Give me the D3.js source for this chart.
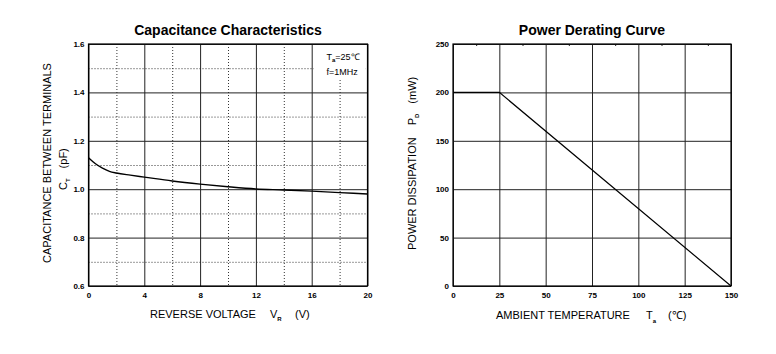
<!DOCTYPE html>
<html>
<head>
<meta charset="utf-8">
<script src="https://cdn.jsdelivr.net/npm/d3@7"></script>
<style>
  body { margin: 0; background: #fff; }
  text { font-family: "Liberation Sans", Arial, sans-serif; fill: #000; }
  .tick-label { font-size: 8px; font-weight: bold; }
  .title { font-size: 14px; font-weight: bold; }
  .axis-label { font-size: 11px; }
</style>
</head>
<body>
<script>
// Data // ----------------------------------------------------------------
// capacitance vs reverse voltage
var capVoltage = [0, 0.5, 1, 1.5, 2, 3, 4, 6, 8, 10, 12, 14, 16, 18, 20];
var capValue   = [1.13, 1.105, 1.087, 1.074, 1.067, 1.058, 1.05, 1.034, 1.021, 1.01, 1.001, 0.997, 0.992, 0.986, 0.98];
var capXTicks  = [0, 4, 8, 12, 16, 20];
var capXMinor  = [2, 6, 10, 14, 18];
var capYTicks  = [0.6, 0.8, 1.0, 1.2, 1.4, 1.6];
var capYMinor  = [0.7, 0.9, 1.1, 1.3, 1.5];

// power derating
var pdTemp  = [0, 25, 150];
var pdPower = [200, 200, 0];
var pdXTicks = [0, 25, 50, 75, 100, 125, 150];
var pdYTicks = [0, 50, 100, 150, 200, 250];
var pdXSmall = [12.5, 37.5, 62.5, 87.5, 112.5, 137.5];

var svg = d3.select("body").append("svg")
    .attr("width", 776)
    .attr("height", 354);

// Left chart // -------------------------------------------------------------
var c1 = {left: 88.5, top: 44, width: 279, height: 242};
var x1 = d3.scaleLinear().domain([0, 20]).range([0, c1.width]);
var y1 = d3.scaleLinear().domain([0.6, 1.6]).range([c1.height, 0]);

var g1 = svg.append("g").attr("transform", "translate(" + c1.left + "," + c1.top + ")");

// dotted minor grid
g1.append("g").call(d3.axisBottom(x1).tickValues(capXMinor).tickSize(c1.height).tickFormat(""))
  .call(function(g){ g.select(".domain").remove(); })
  .selectAll("line").attr("stroke", "#333").attr("stroke-dasharray", "1,2");
g1.append("g").call(d3.axisRight(y1).tickValues(capYMinor).tickSize(c1.width).tickFormat(""))
  .call(function(g){ g.select(".domain").remove(); })
  .selectAll("line").attr("stroke", "#333").attr("stroke-dasharray", "1,2");

// white box behind the conditions note (drawn before the solid grid)
g1.append("rect").attr("x", x1(16) + 2).attr("y", 3).attr("width", 52).attr("height", 32)
  .attr("fill", "#fff");

// solid major grid
g1.append("g").call(d3.axisBottom(x1).tickValues(capXTicks).tickSize(c1.height).tickFormat(""))
  .call(function(g){ g.select(".domain").remove(); })
  .selectAll("line").attr("stroke", "#222");
g1.append("g").call(d3.axisRight(y1).tickValues(capYTicks).tickSize(c1.width).tickFormat(""))
  .call(function(g){ g.select(".domain").remove(); })
  .selectAll("line").attr("stroke", "#222");

g1.append("rect").attr("width", c1.width).attr("height", c1.height)
  .attr("fill", "none").attr("stroke", "#000").attr("stroke-width", 1.2);

// tick labels
g1.append("g").attr("transform", "translate(0," + c1.height + ")")
  .call(d3.axisBottom(x1).tickValues(capXTicks).tickSize(0).tickPadding(6).tickFormat(d3.format("d")))
  .call(function(g){ g.select(".domain").remove(); g.selectAll("text").attr("class", "tick-label").attr("font-family", null).attr("font-size", null); });
g1.append("g")
  .call(d3.axisLeft(y1).tickValues(capYTicks).tickSize(0).tickPadding(4).tickFormat(d3.format(".1f")))
  .call(function(g){ g.select(".domain").remove(); g.selectAll("text").attr("class", "tick-label").attr("font-family", null).attr("font-size", null); });

// curve
var capLine = d3.line().curve(d3.curveMonotoneX)
  .x(function(d, i){ return x1(capVoltage[i]); })
  .y(function(d){ return y1(d); });
g1.append("path").datum(capValue)
  .attr("d", capLine).attr("fill", "none").attr("stroke", "#000").attr("stroke-width", 1.4);

// annotation
var ann = g1.append("text").attr("x", c1.width - 41).attr("y", 16).attr("font-size", 9);
ann.append("tspan").text("T");
ann.append("tspan").attr("font-size", 6).attr("font-weight", "bold").attr("dy", 2).text("a");
ann.append("tspan").attr("dy", -2).text("=25℃");
g1.append("text").attr("x", c1.width - 41).attr("y", 31).attr("font-size", 9).text("f=1MHz");

// titles
svg.append("text").attr("class", "title").attr("x", c1.left + c1.width / 2).attr("y", 35)
  .attr("text-anchor", "middle").text("Capacitance Characteristics");

var xl1 = svg.append("text").attr("class", "axis-label").attr("x", 150).attr("y", 318);
xl1.append("tspan").text("REVERSE VOLTAGE");
xl1.append("tspan").attr("x", 270).text("V");
xl1.append("tspan").attr("font-size", 6).attr("font-weight", "bold").attr("dy", 3).text("R");
xl1.append("tspan").attr("x", 295).attr("dy", -3).text("(V)");

svg.append("text").attr("class", "axis-label")
  .attr("transform", "translate(51,163) rotate(-90)")
  .attr("text-anchor", "middle").text("CAPACITANCE BETWEEN TERMINALS");
var yl1 = svg.append("text").attr("class", "axis-label")
  .attr("transform", "translate(67,190) rotate(-90)");
yl1.append("tspan").text("C");
yl1.append("tspan").attr("font-size", 6).attr("font-weight", "bold").attr("dy", 3).text("T");
yl1.append("tspan").attr("dy", -3).attr("dx", 10).text("(pF)");

// Right chart // ------------------------------------------------------------
var c2 = {left: 453, top: 44, width: 278, height: 242};
var x2 = d3.scaleLinear().domain([0, 150]).range([0, c2.width]);
var y2 = d3.scaleLinear().domain([0, 250]).range([c2.height, 0]);

var g2 = svg.append("g").attr("transform", "translate(" + c2.left + "," + c2.top + ")");

g2.append("g").call(d3.axisBottom(x2).tickValues(pdXTicks).tickSize(c2.height).tickFormat(""))
  .call(function(g){ g.select(".domain").remove(); })
  .selectAll("line").attr("stroke", "#222");
g2.append("g").call(d3.axisRight(y2).tickValues(pdYTicks).tickSize(c2.width).tickFormat(""))
  .call(function(g){ g.select(".domain").remove(); })
  .selectAll("line").attr("stroke", "#222");

// small ticks along the top edge
g2.append("g").call(d3.axisBottom(x2).tickValues(pdXSmall).tickSize(2).tickFormat(""))
  .call(function(g){ g.select(".domain").remove(); })
  .selectAll("line").attr("stroke", "#222");

g2.append("rect").attr("width", c2.width).attr("height", c2.height)
  .attr("fill", "none").attr("stroke", "#000").attr("stroke-width", 1.2);

g2.append("g").attr("transform", "translate(0," + c2.height + ")")
  .call(d3.axisBottom(x2).tickValues(pdXTicks).tickSize(0).tickPadding(6).tickFormat(d3.format("d")))
  .call(function(g){ g.select(".domain").remove(); g.selectAll("text").attr("class", "tick-label").attr("font-family", null).attr("font-size", null); });
g2.append("g")
  .call(d3.axisLeft(y2).tickValues(pdYTicks).tickSize(0).tickPadding(4).tickFormat(d3.format("d")))
  .call(function(g){ g.select(".domain").remove(); g.selectAll("text").attr("class", "tick-label").attr("font-family", null).attr("font-size", null); });

var pdLine = d3.line()
  .x(function(d, i){ return x2(pdTemp[i]); })
  .y(function(d){ return y2(d); });
g2.append("path").datum(pdPower)
  .attr("d", pdLine).attr("fill", "none").attr("stroke", "#000").attr("stroke-width", 1.2);

svg.append("text").attr("class", "title").attr("x", c2.left + c2.width / 2).attr("y", 35)
  .attr("text-anchor", "middle").text("Power Derating Curve");

var xl2 = svg.append("text").attr("class", "axis-label").attr("x", 496).attr("y", 319);
xl2.append("tspan").text("AMBIENT TEMPERATURE");
xl2.append("tspan").attr("x", 646).text("T");
xl2.append("tspan").attr("font-size", 6).attr("font-weight", "bold").attr("dy", 4).text("a");
xl2.append("tspan").attr("x", 668).attr("dy", -4).text("(℃)");

var yl2 = svg.append("text").attr("class", "axis-label")
  .attr("transform", "translate(416,250) rotate(-90)");
yl2.append("tspan").text("POWER DISSIPATION");
yl2.append("tspan").attr("dx", 12).text("P");
yl2.append("tspan").attr("font-size", 6).attr("font-weight", "bold").attr("dy", 3).text("D");
yl2.append("tspan").attr("dy", -3).attr("dx", 10).text("(mW)");
</script>
</body>
</html>
